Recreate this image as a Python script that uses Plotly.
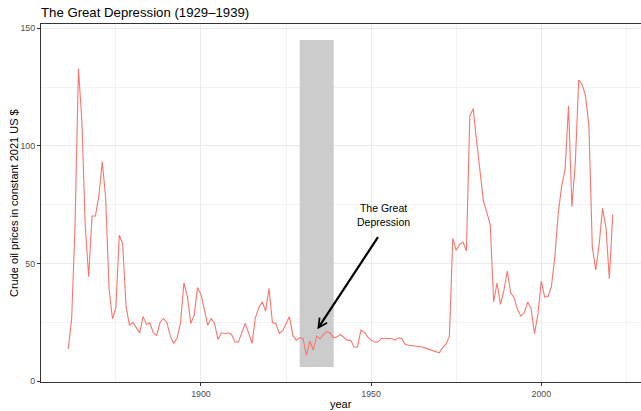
import plotly.graph_objects as go

years = list(range(1861, 2022))
prices = [
    13.7, 26.2, 66.0, 132.8, 111.0, 66.0, 44.4, 70.2, 70.2, 78.7,  # 1861-1870
    93.3, 78.0, 39.0, 26.5, 31.2, 62.0, 58.4, 31.5, 23.7, 25.0,    # 1871-1880
    22.7, 20.5, 27.4, 24.1, 24.8, 20.5, 19.4, 25.0, 26.6, 24.8,    # 1881-1890
    19.1, 16.0, 18.4, 24.8, 41.8, 36.1, 24.5, 27.9, 39.7, 36.8,    # 1891-1900
    30.5, 23.7, 26.6, 24.5, 17.7, 20.5, 20.1, 20.5, 19.8, 16.6,    # 1901-1910
    16.6, 20.5, 24.5, 20.5, 16.0, 26.9, 31.2, 33.7, 29.8, 39.4,    # 1911-1920
    24.8, 24.5, 20.3, 21.3, 24.1, 27.4, 19.4, 17.4, 18.4, 18.0,    # 1921-1930
    10.9, 17.0, 13.2, 19.1, 18.0, 19.8, 21.0, 20.3, 18.4, 18.8,    # 1931-1940
    19.8, 18.4, 17.4, 17.3, 14.5, 14.5, 21.7, 20.8, 18.8, 17.4,    # 1941-1950
    16.6, 16.6, 18.1, 18.1, 18.1, 18.1, 17.4, 18.4, 18.1, 15.6,    # 1951-1960
    15.2, 15.0, 14.9, 14.9, 14.5, 14.0, 13.5, 13.0, 12.5, 12.0,    # 1961-1970
    14.2, 15.6, 19.1, 60.7, 55.6, 58.1, 59.1, 55.3, 112.7, 115.8,  # 1971-1980
    102.0, 88.6, 76.5, 71.6, 66.6, 33.7, 41.8, 32.6, 38.3, 46.8,   # 1981-1990
    37.6, 35.4, 30.5, 27.6, 29.1, 33.6, 30.8, 20.1, 28.3, 42.5,    # 1991-2000
    35.7, 35.9, 40.4, 53.1, 71.6, 82.9, 90.0, 116.9, 74.1, 92.8,   # 2001-2010
    128.0, 126.1, 121.2, 108.4, 56.7, 47.2, 58.0, 73.4, 65.2, 43.5,  # 2011-2020
    70.9,                                                           # 2021
]

period_start, period_end = 1929, 1939
rect_bottom, rect_top = 6, 145
label_text = "The Great<br>Depression"
label_x, label_y = 1953.5, 70.7
arrow_from = (1952.3, 61.8)
arrow_to = (1934.2, 22.0)

font_family = "Liberation Sans, Arial, sans-serif"

fig = go.Figure()
fig.add_trace(go.Scatter(x=years, y=prices, mode="lines",
                         line=dict(color="#F8766D", width=1.1),
                         hoverinfo="x+y", showlegend=False))

fig.add_shape(type="rect", xref="x", yref="y",
              x0=period_start, x1=period_end, y0=rect_bottom, y1=rect_top,
              fillcolor="#CCCCCC", line=dict(width=0), layer="between")

fig.add_annotation(x=label_x, y=label_y, text=label_text, showarrow=False,
                   font=dict(family=font_family, size=10.5, color="black"))
fig.add_annotation(x=arrow_to[0], y=arrow_to[1], ax=arrow_from[0], ay=arrow_from[1],
                   axref="x", ayref="y", xref="x", yref="y", text="",
                   showarrow=True, arrowhead=5, arrowsize=0.8, arrowwidth=2.2,
                   arrowcolor="black", standoff=0)

# axis titles placed by hand, like ggplot
fig.add_annotation(text="year", xref="paper", yref="paper", x=0.5, y=-22 / 358,
                   yanchor="middle", showarrow=False,
                   font=dict(family=font_family, size=11, color="black"))
fig.add_annotation(text="Crude oil prices in constant 2021 US $", xref="paper", yref="paper",
                   x=-27 / 600, y=0.5, textangle=-90, xanchor="center", showarrow=False,
                   font=dict(family=font_family, size=11, color="black"))

axis_common = dict(showline=True, mirror=True, linecolor="#333333", linewidth=1.2,
                   ticks="outside", ticklen=3, tickcolor="#333333", tickwidth=1,
                   gridcolor="#EBEBEB", gridwidth=1, zeroline=False, automargin=False,
                   tickfont=dict(family=font_family, size=8.8, color="#4D4D4D"))

fig.update_xaxes(range=[1853, 2029.3], tick0=1900, dtick=50,
                 minor=dict(tick0=1875, dtick=25, showgrid=True, gridcolor="#F2F2F2",
                            gridwidth=0.8, ticks=""),
                 **axis_common)
fig.update_yaxes(range=[-0.4, 151.8], tick0=0, dtick=50,
                 minor=dict(tick0=25, dtick=25, showgrid=True, gridcolor="#F2F2F2",
                            gridwidth=0.8, ticks=""),
                 **axis_common)

fig.update_layout(
    width=641, height=411,
    margin=dict(l=41, r=0, t=24, b=29),
    plot_bgcolor="white", paper_bgcolor="white",
    title=dict(text="The Great Depression (1929–1939)", x=41 / 641, xanchor="left",
               y=1 - 12 / 411, yanchor="middle",
               font=dict(family=font_family, size=13.2, color="black")),
)

# drop the browser's default page margin so the chart sits at 0,0
fig.write_html("out.html", config={"displayModeBar": False},
               post_script="document.body.style.margin = '0';")
